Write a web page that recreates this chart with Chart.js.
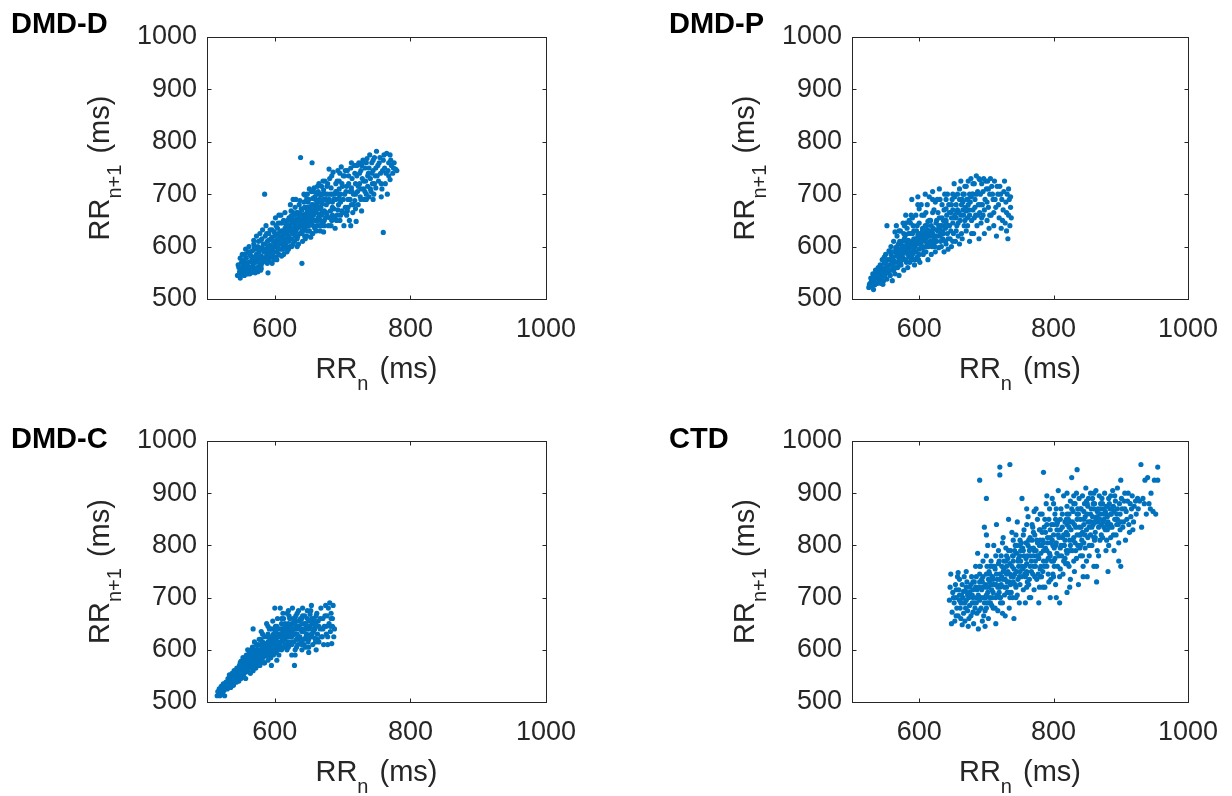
<!DOCTYPE html>
<html><head><meta charset="utf-8">
<script src="https://cdn.jsdelivr.net/npm/chart.js@4/dist/chart.umd.min.js"></script>
<style>
html,body{margin:0;padding:0;background:#fff;}
#wrap{position:relative;width:1232px;height:796px;overflow:hidden;background:#fff;}
canvas{position:absolute;}
</style></head><body>
<div id="wrap">
<canvas id="c1" width="616" height="398" style="left:0;top:0"></canvas>
<canvas id="c2" width="616" height="398" style="left:616px;top:0"></canvas>
<canvas id="c3" width="616" height="398" style="left:0;top:398px"></canvas>
<canvas id="c4" width="616" height="398" style="left:616px;top:398px"></canvas>
</div>
<script>
// ---- tick labels / axis ranges ----
const xTicks = [600, 800, 1000];
const yTicks = [500, 600, 700, 800, 900, 1000];
const axisMin = 500, axisMax = 1000;
const panelTitles = ['DMD-D', 'DMD-P', 'DMD-C', 'CTD'];

// ---- series values: [RRn, RRn+1] in ms ----
const dmdD = [
[545,545],[548,552],[550,558],[552,547],[553,565],[555,575],[556,560],[549,540],[551,570],[554,553],
[558,548],[558,578],[560,562],[561,555],[562,570],[563,585],[564,560],[565,550],[566,575],[567,592],[568,565],[569,580],[570,556],[570,598],
[572,570],[573,585],[574,560],[575,600],[576,575],[577,590],[578,566],[579,612],[580,582],[581,598],[582,570],[583,605],[584,590],[585,577],[585,700],[586,620],[575,552],[580,558],
[587,595],[588,583],[589,610],[590,550],[590,600],[591,625],[592,588],[593,603],[594,615],[595,580],[596,632],[597,598],[598,610],[599,590],[600,620],[600,605],[596,568],[592,572],
[602,640],[603,612],[604,598],[605,625],[606,585],[607,618],[608,645],[609,606],[610,630],[611,595],[612,622],[613,650],[614,610],[615,635],[603,575],[610,582],[606,660],[612,602],
[616,625],[617,648],[618,612],[619,638],[620,620],[621,655],[622,600],[623,632],[624,668],[625,615],[626,645],[627,628],[628,660],[629,610],[630,640],[630,675],[618,590],[624,650],[627,690],[622,640],
[631,630],[632,652],[633,615],[634,665],[635,645],[636,680],[637,625],[638,770],[638,655],[639,640],[640,568],[640,670],[641,610],[642,650],[643,685],[644,635],[645,662],[645,698],[633,600],[636,638],[642,660],[644,620],
[646,648],[647,675],[648,630],[649,660],[650,690],[651,642],[652,668],[653,618],[654,705],[655,760],[655,652],[656,680],[657,640],[658,665],[659,695],[660,650],[660,678],[648,700],[652,655],[656,625],[658,712],[650,672],
[661,665],[662,640],[663,688],[664,655],[665,720],[666,672],[667,630],[668,698],[669,660],[670,682],[671,645],[672,708],[673,668],[674,690],[675,655],[664,705],[668,675],[672,628],[666,652],[674,725],
[676,680],[677,660],[678,700],[679,640],[680,690],[681,730],[682,668],[683,712],[684,650],[685,685],[686,742],[687,672],[688,700],[689,635],[690,720],[680,748],[685,660],[690,690],
[691,705],[692,660],[693,745],[694,680],[695,725],[696,650],[697,700],[698,752],[699,668],[700,715],[701,690],[702,640],[703,735],[704,675],[705,705],[695,692],
[706,660],[707,745],[708,690],[709,720],[710,650],[711,705],[712,750],[713,680],[714,730],[715,665],[716,700],[717,755],[718,688],[719,720],[720,648],[712,640],
[721,735],[722,705],[723,680],[724,760],[725,720],[726,695],[727,745],[728,668],[729,730],[730,765],[731,710],[732,690],[733,750],[734,725],[735,700],[728,755],
[736,768],[737,715],[738,740],[739,695],[740,775],[741,730],[742,705],[743,760],[744,720],[745,745],[746,700],[747,770],[748,735],[749,712],[750,782],[745,690],
[752,755],[753,725],[755,770],[756,740],[758,710],[760,627],[760,765],[762,750],[763,720],[765,778],[767,745],[768,760],[770,775],[770,728],[772,755],[775,750],[778,748],[780,745],[766,700],[757,695],
[625,635],[635,650],[645,655],[655,665],[665,675],[640,645],[650,660],[660,670],[630,620],[620,630],[615,615],[605,610],[598,600],[588,590],[578,580],[568,572],[660,690],[670,700],[650,640],[640,630],[635,660],[645,675],[655,680],[675,690],[685,700],[695,710],
[547,560],[551,548],[553,572],[556,585],[557,552],[559,568],[561,590],[563,548],[565,582],[567,558],[569,605],[571,578],[572,595],[574,575],[576,610],[578,595],[579,555],[581,615],[583,578],[585,605],
[586,590],[588,625],[589,568],[591,612],[593,580],[594,595],[596,618],[597,585],[599,628],[601,600],[602,580],[604,635],[605,612],[607,595],[608,628],[610,615],[611,645],[613,595],[614,628],[616,605],
[617,640],[619,622],[620,595],[621,640],[623,615],[624,658],[626,625],[627,605],[629,648],[630,628],[632,665],[633,640],[634,620],[636,660],[637,645],[639,672],[640,625],[641,655],[643,640],[644,675],
[646,660],[647,620],[649,685],[650,650],[651,630],[653,670],[654,645],[656,692],[657,660],[659,635],[661,680],[662,700],[663,650],[665,662],[666,690],[668,640],[669,715],[671,665],[672,690],[673,650],
[675,700],[676,665],[678,720],[679,685],[681,655],[682,700],[684,735],[685,675],[687,690],[688,655],[690,705],[692,725],[693,670],[694,700],[696,740],[697,685],[699,720],[701,665],[703,700],[704,745],
[706,715],[708,675],[709,735],[711,690],[713,760],[714,705],[716,680],[718,740],[719,700],[721,755],[723,715],[725,740],[727,690],[729,760],[731,725],[733,705],[735,760],[737,735],[739,750],[741,710],
[743,740],[745,765],[747,720],[749,750],[751,735],[754,760],[757,720],[759,745],[761,775],[764,740],[768,735],[771,765],[774,740],[776,760],
[546,565],[549,578],[552,585],[555,545],[557,595],[560,548],[562,600],[564,590],[566,560],[569,612],[571,550],[573,620],[576,560],[578,625],[580,565],[582,632],[584,575],[587,640],[589,578],[591,600],
[593,632],[595,595],[597,645],[599,575],[601,655],[603,590],[605,645],[607,605],[609,660],[611,610],[613,585],[615,665],[617,598],[619,650],[621,610],[623,680],[625,600],[627,665],[629,625],[631,690],
[633,635],[635,605],[637,688],[639,655],[641,630],[643,700],[645,615],[647,690],[649,640],[651,710],[653,655],[655,625],[657,705],[659,675],[661,630],[663,715],[665,640],[667,700],[669,648],[671,725],
[673,640],[677,715],[683,640],[691,650],[697,660],[701,735],[707,668],[713,712],[719,672],[727,710],[735,690],
[628,645],[632,635],[638,662],[642,648],[648,668],[652,676],[656,660],[662,672],[666,685],[670,665],[644,658],[634,642],[626,652],[652,662],[662,682]
];

const dmdP = [
[525,522],[527,530],[528,540],[530,525],[531,548],[533,535],[534,527],[535,555],[536,540],[538,530],[539,560],[540,545],[532,518],[537,550],
[541,532],[542,565],[543,550],[544,540],[545,575],[546,555],[547,535],[548,568],[549,545],[550,585],[551,560],[552,640],[552,538],[553,575],[554,550],[555,592],[546,528],[550,570],[544,560],
[556,565],[557,545],[558,600],[559,578],[560,535],[560,590],[561,560],[562,610],[563,572],[564,548],[565,598],[566,582],[567,620],[568,560],[569,605],[570,575],[570,545],[558,585],[562,555],[566,640],[568,590],[564,628],
[571,595],[572,630],[573,565],[574,610],[575,585],[576,645],[577,555],[578,600],[579,620],[580,575],[580,660],[581,590],[582,635],[583,560],[584,612],[585,595],[585,650],[573,580],[577,625],[583,585],[575,602],
[586,570],[587,625],[588,605],[589,690],[590,585],[591,640],[592,615],[593,565],[594,600],[595,660],[596,630],[597,580],[598,695],[599,610],[600,595],[600,645],[588,578],[592,598],[596,612],[590,625],[594,575],[598,622],
[601,570],[602,620],[603,680],[604,600],[605,635],[606,585],[607,660],[608,615],[609,700],[610,590],[611,640],[612,605],[613,575],[614,625],[615,695],[603,605],[607,628],[611,618],[605,598],[613,648],
[616,610],[617,650],[618,585],[619,630],[620,705],[621,600],[622,670],[623,620],[624,590],[625,645],[626,610],[627,690],[628,630],[629,598],[630,710],[630,655],[618,640],[622,615],[626,632],[628,665],
[631,620],[632,640],[633,600],[634,680],[635,615],[636,650],[637,590],[638,700],[639,635],[640,605],[641,660],[642,625],[643,595],[644,680],[645,640],[636,625],[640,672],
[646,615],[647,665],[648,600],[649,690],[650,645],[651,625],[652,720],[653,660],[654,610],[655,680],[656,640],[657,700],[658,620],[659,665],[660,690],[660,605],[650,670],[655,655],
[661,650],[662,725],[663,680],[664,615],[665,700],[666,660],[667,640],[668,715],[669,675],[670,630],[671,690],[672,655],[673,725],[674,670],[675,610],[675,700],[665,670],[670,668],
[676,685],[677,730],[678,650],[679,700],[680,670],[681,625],[682,720],[683,690],[684,660],[685,735],[686,640],[687,705],[688,680],[689,615],[690,728],[690,665],[680,700],
[691,700],[692,645],[693,720],[694,680],[695,660],[696,730],[697,625],[698,690],[700,710],[701,650],[702,725],[703,675],[704,635],[705,700],
[707,660],[708,715],[710,690],[711,640],[712,725],[714,675],[715,620],[717,700],[719,655],[720,715],[722,635],[723,690],[725,670],[726,705],[728,645],[729,685],[730,630],[731,700],[733,660],[734,690],[735,640],[736,675],[737,655],[732,615],
[565,570],[575,590],[585,600],[595,605],[605,612],[615,620],[580,595],[590,610],[600,615],[610,625],[570,580],[560,570],[555,555],[600,585],[610,600],[620,625],[595,590],[585,588],[605,630],[615,605],
[526,528],[529,535],[532,545],[535,530],[538,545],[541,555],[543,530],[546,545],[548,580],[551,550],[553,562],[556,575],[557,590],[559,555],[561,575],[563,590],[565,560],[567,600],[569,582],[571,610],
[572,570],[574,595],[576,578],[578,615],[579,590],[581,570],[582,605],[584,625],[586,590],[587,645],[589,600],[591,575],[592,630],[594,610],[595,590],[597,640],[599,575],[601,625],[602,605],[604,660],
[606,615],[607,590],[609,640],[610,610],[612,680],[614,600],[615,650],[617,620],[619,600],[620,665],[621,635],[623,600],[624,685],[626,650],[627,620],[629,640],[631,690],[632,610],[634,655],[635,630],
[637,670],[639,610],[640,645],[642,700],[643,615],[645,665],[647,630],[648,680],[650,610],[652,655],[653,695],[655,630],[657,670],[658,645],[660,710],[662,660],[663,625],[665,685],[667,700],[668,650],
[670,715],[672,640],[673,680],[675,660],[677,695],[678,625],[680,720],[682,655],[683,675],[685,700],[687,660],[689,730],[691,680],[693,655],[695,705],[697,670],[699,725],[701,685],[703,710],[705,660],
[706,730],[709,700],[711,665],[713,690],[716,715],[718,680],[721,700],[724,650],[727,725],[730,665],[733,710],[736,695],[650,700],[640,690],[620,690],[610,665],[600,672],[590,655],[580,645],[570,630],
[560,580],[565,590],[570,565],[575,575],[580,610],[585,580],[590,600],[595,615],[600,605],[605,620],[610,610],[615,630],[620,610],[625,620],[630,635],[635,640],[640,650],[560,565],[550,555],[545,550],
[540,538],[535,545],[572,588],[582,598],[592,592],[602,612],[612,632],[622,605],[632,625],[642,640],[648,655],[656,665],[664,690],[672,690],[578,640],[588,660],[598,680]
];

const dmdC = [
[515,512],[517,518],[518,525],[520,515],[521,530],[522,520],[524,535],[525,522],[526,512],[527,528],[528,538],[530,525],[519,522],[523,515],
[531,545],[532,532],[533,552],[534,538],[535,528],[536,548],[537,555],[538,540],[539,532],[540,560],[541,545],[542,552],[543,538],[544,565],[545,548],[533,540],[538,550],[542,560],
[546,558],[547,540],[548,570],[549,552],[550,545],[550,578],[551,562],[552,550],[553,585],[554,565],[555,555],[556,575],[557,545],[558,590],[559,568],[560,558],[560,600],[548,560],[552,572],[556,562],[554,548],[558,578],
[561,580],[562,565],[563,595],[564,555],[565,585],[566,572],[567,605],[568,640],[568,560],[569,590],[570,575],[570,615],[571,598],[572,565],[573,585],[574,608],[575,578],[575,595],[563,575],[567,582],[571,570],[573,600],[565,600],[569,568],
[576,610],[577,585],[578,570],[579,620],[580,592],[580,600],[581,580],[582,615],[583,598],[584,575],[585,625],[586,605],[587,588],[588,650],[589,610],[590,580],[590,630],[578,595],[582,585],[586,595],[584,610],[588,600],[576,580],[580,635],
[591,598],[592,640],[593,615],[594,585],[595,625],[596,605],[597,655],[598,590],[599,620],[600,610],[600,680],[601,635],[602,595],[603,645],[604,615],[605,600],[605,630],[593,605],[597,612],[601,620],[603,580],[595,570],[599,600],
[606,640],[607,612],[608,680],[609,625],[610,600],[610,650],[611,618],[612,635],[613,660],[614,605],[615,625],[616,645],[617,610],[618,670],[619,630],[620,615],[620,650],[608,630],[612,620],[616,630],[618,600],[614,640],[606,590],
[621,635],[622,660],[623,610],[624,645],[625,625],[626,680],[627,640],[628,615],[629,655],[630,630],[630,600],[631,665],[632,620],[633,645],[634,610],[635,675],[623,630],[627,650],[631,640],[625,590],[633,630],[629,570],
[636,640],[637,625],[638,660],[639,615],[640,650],[640,600],[641,680],[642,635],[643,620],[644,665],[645,605],[646,645],[647,630],[648,675],[649,615],[650,655],[650,595],[638,640],[644,650],[648,640],
[651,640],[652,668],[653,625],[654,685],[655,650],[656,610],[657,635],[658,660],[659,622],[660,645],[661,600],[662,670],[663,630],[664,655],[665,615],[658,640],[654,630],
[667,640],[668,680],[670,625],[671,660],[672,610],[673,645],[675,685],[676,630],[677,665],[678,610],[680,650],[681,690],[682,635],[683,670],[684,612],[685,645],[686,685],[687,625],[683,660],[679,680],
[575,585],[585,590],[595,600],[605,615],[615,620],[625,635],[590,595],[600,605],[610,615],[620,630],[580,578],[570,585],[560,570],[630,640],[640,635],[600,625],[610,640],
[516,520],[519,512],[521,524],[524,528],[526,535],[529,530],[531,538],[534,545],[536,535],[539,545],[541,552],[543,560],[545,540],[547,565],[549,575],[551,555],[553,568],[555,580],[557,560],[559,585],
[561,570],[562,592],[564,578],[566,590],[568,575],[569,600],[571,585],[573,610],[574,592],[576,598],[577,620],[579,588],[581,605],[582,630],[584,590],[585,612],[587,598],[589,625],[590,605],[592,590],
[593,620],[595,640],[596,598],[598,630],[600,600],[601,645],[603,625],[604,660],[606,610],[607,628],[609,605],[611,640],[612,670],[614,620],[615,650],[617,625],[618,645],[620,605],[621,665],[622,625],
[624,640],[625,610],[627,660],[628,630],[630,650],[632,605],[633,670],[635,625],[636,655],[638,620],[639,640],[641,665],[643,610],[645,650],[646,625],[648,660],[650,620],[652,645],[653,675],[655,630],
[657,655],[659,640],[661,665],[663,620],[665,645],[667,660],[669,625],[671,640],[674,665],[676,645],[678,625],[682,645],[685,660],[688,640],[600,640],[610,660],[620,675],[590,645],[580,610],[570,595],
[560,578],[550,560],[640,610],[650,605],[660,615],[630,590],
[565,565],[570,580],[575,600],[580,590],[585,605],[590,615],[595,610],[600,620],[605,625],[610,630],[615,635],[620,640],[625,650],[630,660],[635,645],[640,660],[645,640],[650,645],[655,660],[660,650],
[575,570],[585,575],[595,595],[605,605],[615,610],[625,615],[635,620],[545,555],[540,545],[535,535],[530,530],[555,565]
];

const ctd = [
[645,695],[647,745],[648,650],[649,672],[650,710],[652,690],[653,655],[654,725],[655,700],[656,680],[657,740],[658,665],[659,715],[660,695],[660,735],
[661,680],[662,660],[663,705],[664,725],[665,690],[666,670],[667,740],[668,655],[669,712],[670,695],[671,730],[672,675],[673,645],[674,700],[675,720],[675,685],[668,690],[664,648],
[676,705],[677,665],[678,740],[679,690],[680,715],[681,650],[682,730],[683,680],[684,760],[685,700],[686,670],[687,785],[688,640],[689,720],[690,925],[690,695],[690,745],[680,672],[684,720],[688,705],
[691,760],[692,680],[693,715],[694,655],[695,740],[696,700],[697,835],[698,675],[699,725],[700,890],[700,780],[701,690],[702,710],[703,660],[704,750],[705,730],[705,700],[693,735],[697,690],[701,760],[703,720],[698,645],[695,770],[702,800],
[706,690],[707,770],[708,715],[709,740],[710,680],[711,800],[712,725],[713,755],[714,700],[715,840],[716,735],[717,675],[718,765],[719,710],[720,950],[720,935],[720,745],[720,720],[708,685],[712,760],[716,705],[710,735],[718,790],[714,650],[707,725],
[721,700],[722,780],[723,740],[724,690],[725,815],[726,755],[727,720],[728,665],[729,795],[730,745],[731,710],[732,775],[733,850],[734,730],[735,955],[735,700],[722,725],[726,770],[730,760],[734,680],[728,735],[732,750],[724,805],[736,790],[733,710],
[737,740],[738,825],[739,700],[740,770],[741,660],[742,745],[743,800],[744,720],[745,785],[746,845],[747,735],[748,760],[749,690],[750,810],[750,750],[738,760],[742,790],[746,705],[740,730],[748,775],[744,820],[736,725],[750,725],
[751,770],[752,740],[753,890],[754,795],[755,715],[756,830],[757,760],[758,690],[759,805],[760,745],[761,780],[762,855],[763,725],[764,790],[765,760],[765,815],[754,755],[758,740],[762,800],[756,780],[760,720],[764,735],[752,805],[766,700],
[767,770],[768,840],[769,745],[770,795],[771,715],[772,820],[773,760],[774,870],[775,735],[776,805],[777,780],[778,690],[779,830],[780,755],[780,800],[770,760],[774,790],[768,810],[772,740],[778,775],[776,850],[779,720],[771,865],
[781,785],[782,740],[783,860],[784,810],[785,940],[785,770],[786,835],[787,720],[788,795],[789,880],[790,760],[791,815],[792,745],[793,850],[794,785],[795,700],[795,830],[782,800],[786,760],[790,790],[788,825],[792,775],[794,870],[784,750],[796,805],
[797,770],[798,890],[799,745],[800,820],[801,795],[802,860],[803,725],[804,805],[805,840],[806,760],[807,905],[808,780],[809,690],[810,830],[810,755],[798,810],[802,775],[806,845],[800,740],[804,870],[808,815],[796,735],[810,795],[803,800],
[811,870],[812,780],[813,815],[814,745],[815,895],[816,800],[817,845],[818,765],[819,825],[820,710],[820,875],[821,790],[822,850],[823,760],[824,810],[825,885],[825,735],[813,835],[817,775],[821,820],[815,800],[823,860],[819,790],[825,800],
[826,830],[827,930],[828,790],[829,865],[830,815],[831,750],[832,880],[833,835],[834,775],[835,945],[835,860],[836,800],[837,725],[838,890],[839,820],[840,780],[840,850],[828,845],[832,805],[836,870],[830,770],[838,835],[834,900],
[841,870],[842,810],[843,895],[844,760],[845,840],[846,880],[847,795],[848,910],[849,830],[850,740],[850,860],[851,815],[852,890],[853,780],[854,845],[855,820],[855,900],[843,825],[847,855],[851,875],[849,770],[853,835],[845,805],
[856,870],[857,800],[858,890],[859,840],[860,760],[861,880],[862,825],[863,905],[864,850],[865,790],[866,870],[867,835],[868,895],[869,810],[870,860],[870,880],[858,855],[862,815],[866,845],[864,730],[860,900],
[871,840],[872,890],[873,815],[874,870],[875,850],[876,900],[877,830],[878,790],[879,875],[880,855],[881,750],[882,890],[883,835],[884,870],[885,815],[885,895],[874,845],[878,860],[882,800],
[886,860],[887,835],[888,905],[889,875],[890,790],[891,850],[892,885],[893,820],[894,860],[895,910],[896,840],[897,770],[898,880],[899,830],[900,760],[900,925],[890,865],[894,840],
[902,870],[904,845],[905,885],[907,810],[908,865],[910,885],[912,840],[914,880],[915,855],[917,895],[918,830],[920,875],[906,900],[913,825],
[923,860],[925,890],[928,885],[930,955],[931,835],[933,890],[936,925],[938,860],[940,930],[942,880],[945,900],[948,865],[950,925],[952,860],[955,950],[955,925],
[646,720],[651,700],[655,665],[658,748],[662,690],[666,712],[669,680],[672,705],[674,660],[677,725],[679,705],[682,690],[685,740],[686,715],[689,675],[692,700],[694,730],[696,665],[699,700],[700,745],
[703,735],[704,690],[706,760],[709,700],[711,725],[713,680],[715,745],[717,720],[719,770],[721,690],[723,760],[725,735],[727,705],[729,770],[731,730],[733,790],[735,745],[737,710],[739,780],[741,755],
[743,725],[745,800],[747,770],[749,740],[751,790],[753,760],[755,820],[757,745],[759,775],[761,730],[763,810],[765,780],[767,750],[769,835],[771,790],[773,770],[775,810],[777,745],[779,800],[781,760],
[783,825],[785,790],[787,850],[789,770],[791,805],[793,730],[795,780],[797,840],[799,800],[801,760],[803,850],[805,785],[807,820],[809,740],[811,800],[813,860],[815,770],[817,810],[819,850],[821,765],
[823,835],[825,790],[827,870],[829,810],[831,840],[833,790],[835,820],[837,860],[839,795],[841,835],[843,780],[845,865],[847,820],[849,885],[851,845],[853,800],[855,860],[857,835],[859,880],[861,810],
[863,845],[865,865],[867,780],[869,850],[871,820],[873,880],[875,835],[877,865],[879,810],[881,845],[883,880],[885,840],[887,870],[889,820],[891,895],[893,850],[895,870],[897,805],[899,860],[901,890],
[903,835],[906,870],[909,850],[911,900],[916,870],[919,845],[922,885],[926,870],[935,880],[944,870],[714,780],[724,670],[744,700],[764,700],[784,720],[804,700],[824,720],[844,740],[864,760],[760,840],
[780,860],[800,880],[820,900],[740,810],[700,820],[690,760],[670,750],[760,870],[790,895],[830,895],[860,845],[880,830],[900,845],[840,870],[820,840],[800,840],[780,810],[770,780],[750,780],[730,720],
[710,710],[700,720],[690,730],[680,700],[670,720],
[655,715],[665,700],[675,710],[685,690],[695,720],[705,745],[715,725],[725,750],[735,765],[745,750],[755,790],[765,795],[775,780],[785,805],[795,815],[805,830],[815,820],[825,845],[835,850],[845,850],
[855,845],[865,855],[875,860],[885,860],[895,850],[660,705],[680,730],[700,705],[720,735],[740,780],[760,765],[780,830],[800,800],[820,860],[840,820],[860,870],[880,875],[710,760],[730,780],[750,800],
[770,825],[790,840],[810,850],[830,880],[850,880],[870,870],[760,750],[780,740],[800,770],[820,785],[840,800],[860,815],[880,840],[740,740],[720,700],[700,680]
];

const panelData = [dmdD, dmdP, dmdC, ctd];

// ---- layout (canvas-relative pixels) ----
const FONT = '"Liberation Sans", Arial, Helvetica, sans-serif';
const layouts = [
  {id:'c1', yW:207, xH:99, padTop:37, padRight:70, lx:11, ly:33},
  {id:'c2', yW:236, xH:99, padTop:37, padRight:40, lx:53, ly:33},
  {id:'c3', yW:207, xH:94, padTop:43, padRight:70, lx:11, ly:50},
  {id:'c4', yW:236, xH:94, padTop:43, padRight:40, lx:53, ly:50}
];

function drawRR(ctx, sub, cx, by) {
  const big = '29px ' + FONT, small = '20px ' + FONT;
  ctx.font = big; const w1 = ctx.measureText('RR').width; const w3 = ctx.measureText(' (ms)').width;
  ctx.font = small; const w2 = ctx.measureText(sub).width;
  const x0 = cx - (w1 + w2 + w3 + 3) / 2;
  ctx.textAlign = 'left'; ctx.textBaseline = 'alphabetic'; ctx.fillStyle = '#262626';
  ctx.font = big; ctx.fillText('RR', x0, by);
  ctx.font = small; ctx.fillText(sub, x0 + w1, by + 12);
  ctx.font = big; ctx.fillText(' (ms)', x0 + w1 + w2 + 3, by);
}

const framePlugin = {
  id: 'frame',
  afterDraw(chart, args, opts) {
    const {ctx, chartArea: a} = chart;
    const xs = chart.scales.x, ys = chart.scales.y;
    ctx.save();
    ctx.strokeStyle = '#262626'; ctx.lineWidth = 1;
    const L = Math.round(a.left) + 0.5, T = Math.round(a.top) + 0.5, R = Math.round(a.right) + 0.5, B = Math.round(a.bottom) + 0.5;
    ctx.strokeRect(L, T, R - L, B - T);
    const tl = 4;
    ctx.beginPath();
    xTicks.forEach(v => { const px = Math.round(xs.getPixelForValue(v)) + 0.5;
      ctx.moveTo(px, B); ctx.lineTo(px, B - tl); ctx.moveTo(px, T); ctx.lineTo(px, T + tl); });
    yTicks.forEach(v => { const py = Math.round(ys.getPixelForValue(v)) + 0.5;
      ctx.moveTo(L, py); ctx.lineTo(L + tl, py); ctx.moveTo(R, py); ctx.lineTo(R - tl, py); });
    ctx.stroke();
    // axis titles
    drawRR(ctx, 'n', (a.left + a.right) / 2, a.bottom + 79);
    ctx.save();
    ctx.translate(a.left - 98, (a.top + a.bottom) / 2);
    ctx.rotate(-Math.PI / 2);
    drawRR(ctx, 'n+1', 0, 0);
    ctx.restore();
    // panel label
    ctx.font = 'bold 29px ' + FONT; ctx.fillStyle = '#000'; ctx.textAlign = 'left'; ctx.textBaseline = 'alphabetic';
    ctx.fillText(opts.label, opts.lx, opts.ly);
    ctx.restore();
  }
};

layouts.forEach((L, i) => {
  const pts = panelData[i].map(p => ({x: p[0], y: p[1]}));
  new Chart(document.getElementById(L.id), {
    type: 'scatter',
    data: { datasets: [{ data: pts, backgroundColor: '#0072BD', borderWidth: 0, pointRadius: 2.6, pointHoverRadius: 2.6 }] },
    options: {
      responsive: false, animation: false, devicePixelRatio: 1,
      layout: { padding: { top: L.padTop, right: L.padRight, left: 0, bottom: 0 } },
      plugins: { legend: {display: false}, tooltip: {enabled: false}, title: {display: false},
                 frame: { label: panelTitles[i], lx: L.lx, ly: L.ly } },
      events: [],
      scales: {
        x: { type: 'linear', min: axisMin, max: axisMax,
             afterBuildTicks: s => { s.ticks = xTicks.map(v => ({value: v})); },
             afterFit: s => { s.height = L.xH; },
             grid: {display: false, drawTicks: false}, border: {display: false},
             ticks: {font: {family: FONT, size: 27}, color: '#262626', padding: 14, maxRotation: 0, autoSkip: false,
                     callback: v => String(v)} },
        y: { type: 'linear', min: axisMin, max: axisMax,
             afterBuildTicks: s => { s.ticks = yTicks.map(v => ({value: v})); },
             afterFit: s => { s.width = L.yW; },
             grid: {display: false, drawTicks: false}, border: {display: false},
             ticks: {font: {family: FONT, size: 27}, color: '#262626', padding: 10, autoSkip: false,
                     callback: v => String(v)} }
      }
    },
    plugins: [framePlugin]
  });
});
</script>
</body></html>
